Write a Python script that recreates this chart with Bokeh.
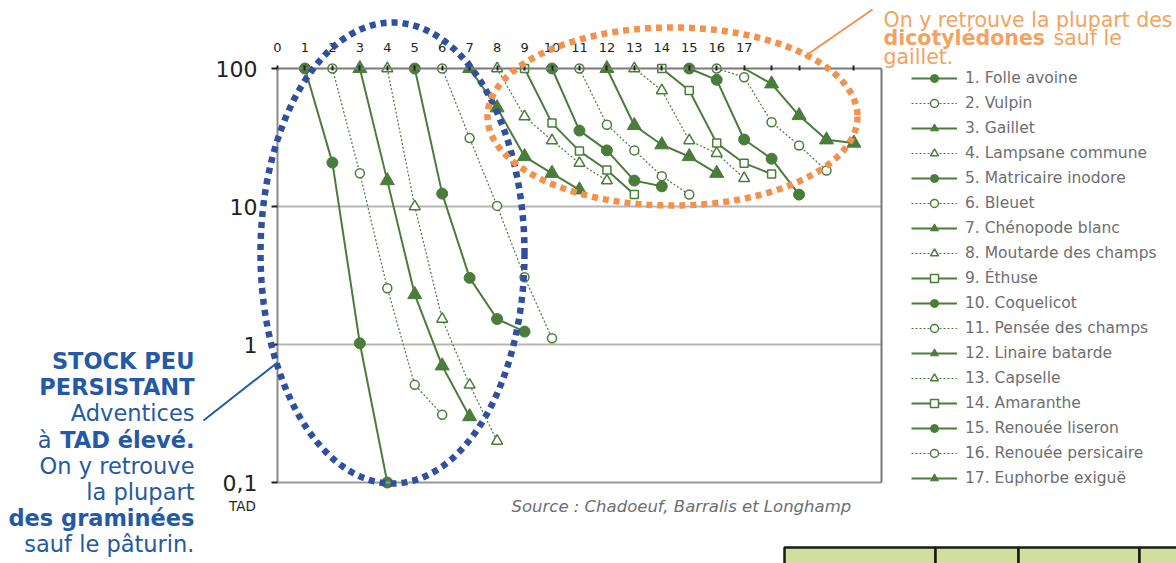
import numpy as np
from bokeh.plotting import figure
from bokeh.models import (FixedTicker, Legend, LegendItem, Label, PolyAnnotation,
                          Arrow, BoxAnnotation, Range1d, LinearAxis, LogAxis)
from bokeh.embed import file_html
from bokeh.resources import INLINE

# ---------------- data ----------------
species = ["1. Folle avoine", "2. Vulpin", "3. Gaillet", "4. Lampsane commune",
           "5. Matricaire inodore", "6. Bleuet", "7. Chénopode blanc",
           "8. Moutarde des champs", "9. Éthuse", "10. Coquelicot",
           "11. Pensée des champs", "12. Linaire batarde", "13. Capselle",
           "14. Amaranthe", "15. Renouée liseron", "16. Renouée persicaire",
           "17. Euphorbe exiguë"]
start_years = list(range(1, 18))
values = [
    [100, 20.8, 1.02, 0.1],
    [100, 17.4, 2.56, 0.51, 0.31],
    [100, 15.4, 2.3, 0.70, 0.30],
    [100, 10.0, 1.53, 0.51, 0.20],
    [100, 12.4, 3.04, 1.53, 1.24],
    [100, 31.3, 10.1, 3.07, 1.11],
    [100, 51.9, 23.0, 17.4, 13.2],
    [100, 44.9, 30.1, 20.6, 15.4],
    [100, 40.2, 25.2, 18.4, 12.2],
    [100, 35.5, 25.5, 15.4, 14.0],
    [100, 39.1, 25.5, 16.6, 12.2],
    [100, 38.6, 28.0, 23.0, 17.4],
    [100, 69.3, 30.1, 24.3, 16.0],
    [100, 69.3, 28.8, 20.6, 17.2],
    [100, 82.8, 30.6, 22.2, 12.2],
    [100, 86.5, 40.8, 27.7, 18.2],
    [100, 77.4, 45.6, 30.4, 28.8],
]
marker_kind = ["circle", "circle", "triangle", "triangle", "circle", "circle",
               "triangle", "triangle", "square", "circle", "circle", "triangle",
               "triangle", "square", "circle", "circle", "triangle"]
marker_filled = [True, False, True, False, True, False, True, False, False, True,
                 False, True, False, False, True, False, True]
line_dotted = [False, True, False, True, False, True, False, True, False, False,
               True, False, True, False, False, True, False]
first_marker_hidden = [False] * 16 + [True]

x_min, x_max = 0, 22
y_min, y_max = 0.1, 100
x_ticks = list(range(0, 22))
x_tick_labels = {i: (str(i) if i <= 17 else "") for i in x_ticks}
y_ticks = [0.1, 1, 10, 100]
y_tick_labels = {0.1: "0,1", 1: "1", 10: "10", 100: "100"}
grid_values = [1, 10]

GREEN = "#4a7c3a"
BLUE = "#2f4f9f"
BLUE_TXT = "#2459a5"
ORANGE = "#f4924b"
ORANGE_TXT = "#f4a261"
GRAY_TXT = "#6d6e70"
AXIS_GRAY = "#8a8a8a"

W, H = 1176, 563

# mapping of page pixels to data (used for annotations and the canvas ranges)
PX0, PXW = 277.0, 27.45
PY100, PDEC = 68.0, 138.0
def dx(sx):
    return (np.asarray(sx, dtype=float) - PX0) / PXW
def dy(sy):
    return 10 ** (2 - (np.asarray(sy, dtype=float) - PY100) / PDEC)

p = figure(width=W, height=H, output_backend="svg", toolbar_location=None,
           x_range=Range1d(float(dx(0)), float(dx(W))),
           y_range=Range1d(float(dy(H)), float(dy(0))),
           y_axis_type="log", x_axis_location="above",
           min_border=0, min_border_left=0, min_border_right=0,
           min_border_top=0, min_border_bottom=0)
p.background_fill_color = "white"
p.border_fill_color = "white"
p.outline_line_color = None
p.xgrid.visible = False
p.ygrid.visible = False

# top axis
xa = p.xaxis[0]
xa.fixed_location = y_max
xa.bounds = (x_min, x_max)
xa.ticker = FixedTicker(ticks=x_ticks, minor_ticks=[])
xa.major_label_overrides = x_tick_labels
xa.major_label_text_font = "DejaVu Sans"
xa.major_label_text_font_size = "13px"
xa.major_label_text_color = "#231f20"
xa.major_label_standoff = 14
xa.major_tick_in = 2
xa.major_tick_out = 3
xa.major_tick_line_color = "#231f20"
xa.major_tick_line_width = 2
xa.axis_line_color = "#7a7a7a"
xa.axis_line_width = 2

# left axis
ya = p.yaxis[0]
ya.fixed_location = x_min
ya.bounds = (y_min, y_max)
ya.ticker = FixedTicker(ticks=y_ticks, minor_ticks=[])
ya.major_label_overrides = y_tick_labels
ya.major_label_text_font = "DejaVu Sans"
ya.major_label_text_font_size = "22px"
ya.major_label_text_color = "#231f20"
ya.major_label_standoff = 14
ya.major_tick_in = 0
ya.major_tick_out = 6
ya.major_tick_line_color = "#231f20"
ya.major_tick_line_width = 2
ya.axis_line_color = AXIS_GRAY
ya.axis_line_width = 2

# right and bottom borders of the chart box (axes without ticks)
ra = LogAxis(fixed_location=x_max, bounds=(y_min, y_max),
             ticker=FixedTicker(ticks=[], minor_ticks=[]),
             major_label_text_font_size="0px", axis_line_color="#777777",
             axis_line_width=2, major_tick_line_color=None, minor_tick_line_color=None)
p.add_layout(ra, "right")
ba = LinearAxis(fixed_location=y_min, bounds=(x_min, x_max),
                ticker=FixedTicker(ticks=[], minor_ticks=[]),
                major_label_text_font_size="0px", axis_line_color="#999999",
                axis_line_width=2, major_tick_line_color=None, minor_tick_line_color=None)
p.add_layout(ba, "below")

# horizontal grid lines inside the chart box
p.segment(x0=[x_min] * len(grid_values), x1=[x_max] * len(grid_values),
          y0=grid_values, y1=grid_values, line_color="#b5b5b5", line_width=2,
          level="underlay")

# ---------------- series ----------------
items = []
for i, name in enumerate(species):
    vals = values[i]
    xs = [start_years[i] + k for k in range(len(vals))]
    if line_dotted[i]:
        lr = p.line(xs, vals, line_color=GREEN, line_width=1.2, line_dash="2 2")
    else:
        lr = p.line(xs, vals, line_color=GREEN, line_width=2)
    mx, my = (xs[1:], vals[1:]) if first_marker_hidden[i] else (xs, vals)
    kind = marker_kind[i]
    if marker_filled[i]:
        size = 11 if kind == "circle" else 14
        sr = p.scatter(mx, my, marker=kind, size=size, fill_color=GREEN,
                       line_color=GREEN, line_width=1)
    else:
        size = {"circle": 9, "triangle": 11, "square": 8}[kind]
        sr = p.scatter(mx, my, marker=kind, size=size, fill_color="white",
                       line_color=GREEN, line_width=1.5)
    items.append(LegendItem(label=name, renderers=[lr, sr]))

legend = Legend(items=items, location=(911, 75), orientation="vertical")
legend.padding = 0
legend.margin = 0
legend.spacing = 5
legend.glyph_width = 46
legend.glyph_height = 20
legend.label_height = 20
legend.label_standoff = 8
legend.label_text_font = "DejaVu Sans"
legend.label_text_font_size = "15.5px"
legend.label_text_color = GRAY_TXT
legend.border_line_color = None
legend.background_fill_alpha = 0
legend.inactive_fill_alpha = 0
p.add_layout(legend, "center")

# ---------------- annotations ----------------
t = np.linspace(0, 2 * np.pi, 240)
bx = 392 + 132 * np.cos(t)
by = 252.5 + 230.5 * np.sin(t)
p.add_layout(PolyAnnotation(xs=list(dx(bx)), ys=list(dy(by)), fill_alpha=0,
                            line_color=BLUE, line_alpha=1, line_width=6.5,
                            line_dash="6 5"))
ox = 672 + 185 * np.cos(t)
oy = 116 + 89 * np.sin(t)
p.add_layout(PolyAnnotation(xs=list(dx(ox)), ys=list(dy(oy)), fill_alpha=0,
                            line_color=ORANGE, line_alpha=1, line_width=6.5,
                            line_dash="6 5"))

p.add_layout(Arrow(end=None, start=None, x_start=float(dx(203)), y_start=float(dy(420)),
                   x_end=float(dx(277)), y_end=float(dy(362)),
                   line_color=BLUE_TXT, line_width=2))
p.add_layout(Arrow(end=None, start=None, x_start=float(dx(804)), y_start=float(dy(56)),
                   x_end=float(dx(872)), y_end=float(dy(9)),
                   line_color=ORANGE, line_width=2))

def label(sx, sy, text, size, color, style="normal", align="left"):
    p.add_layout(Label(x=float(dx(sx)), y=float(dy(sy)), text=text, text_align=align,
                       text_baseline="middle", text_font="DejaVu Sans",
                       text_font_size=size, text_font_style=style, text_color=color))

left_lines = [("STOCK PEU", "bold"), ("PERSISTANT", "bold"), ("Adventices", "normal"),
              ("TAD élevé.", "bold"), ("On y retrouve", "normal"), ("la plupart", "normal"),
              ("des graminées", "bold"), ("sauf le pâturin.", "normal")]
for k, (txt, style) in enumerate(left_lines):
    label(194, 360.5 + 26.2 * k, txt, "22.5px", BLUE_TXT, style, "right")
label(51, 360.5 + 26.2 * 3, "à", "22.5px", BLUE_TXT, "normal", "right")

label(883, 19, "On y retrouve la plupart des", "20.5px", ORANGE_TXT)
label(883, 37.5, "dicotylédones", "20.5px", ORANGE_TXT, "bold")
label(1053, 37.5, "sauf le", "20.5px", ORANGE_TXT)
label(883, 56, "gaillet.", "20.5px", ORANGE_TXT)

label(242, 505, "TAD", "13.5px", "#231f20", "normal", "center")
label(511, 505.5, "Source : Chadoeuf, Barralis et Longhamp", "16.5px", GRAY_TXT, "italic")

# table fragment bottom right
for l, r in [(784, 935), (935, 1018), (1018, 1139), (1139, 1220)]:
    p.add_layout(BoxAnnotation(left=float(dx(l)), right=float(dx(r)),
                               top=float(dy(547)), bottom=float(dy(620)),
                               fill_color="#d1df9b", fill_alpha=1,
                               line_color="#1a1a1a", line_alpha=1, line_width=2.5))

open("out.html", "w").write(file_html(p, INLINE))
